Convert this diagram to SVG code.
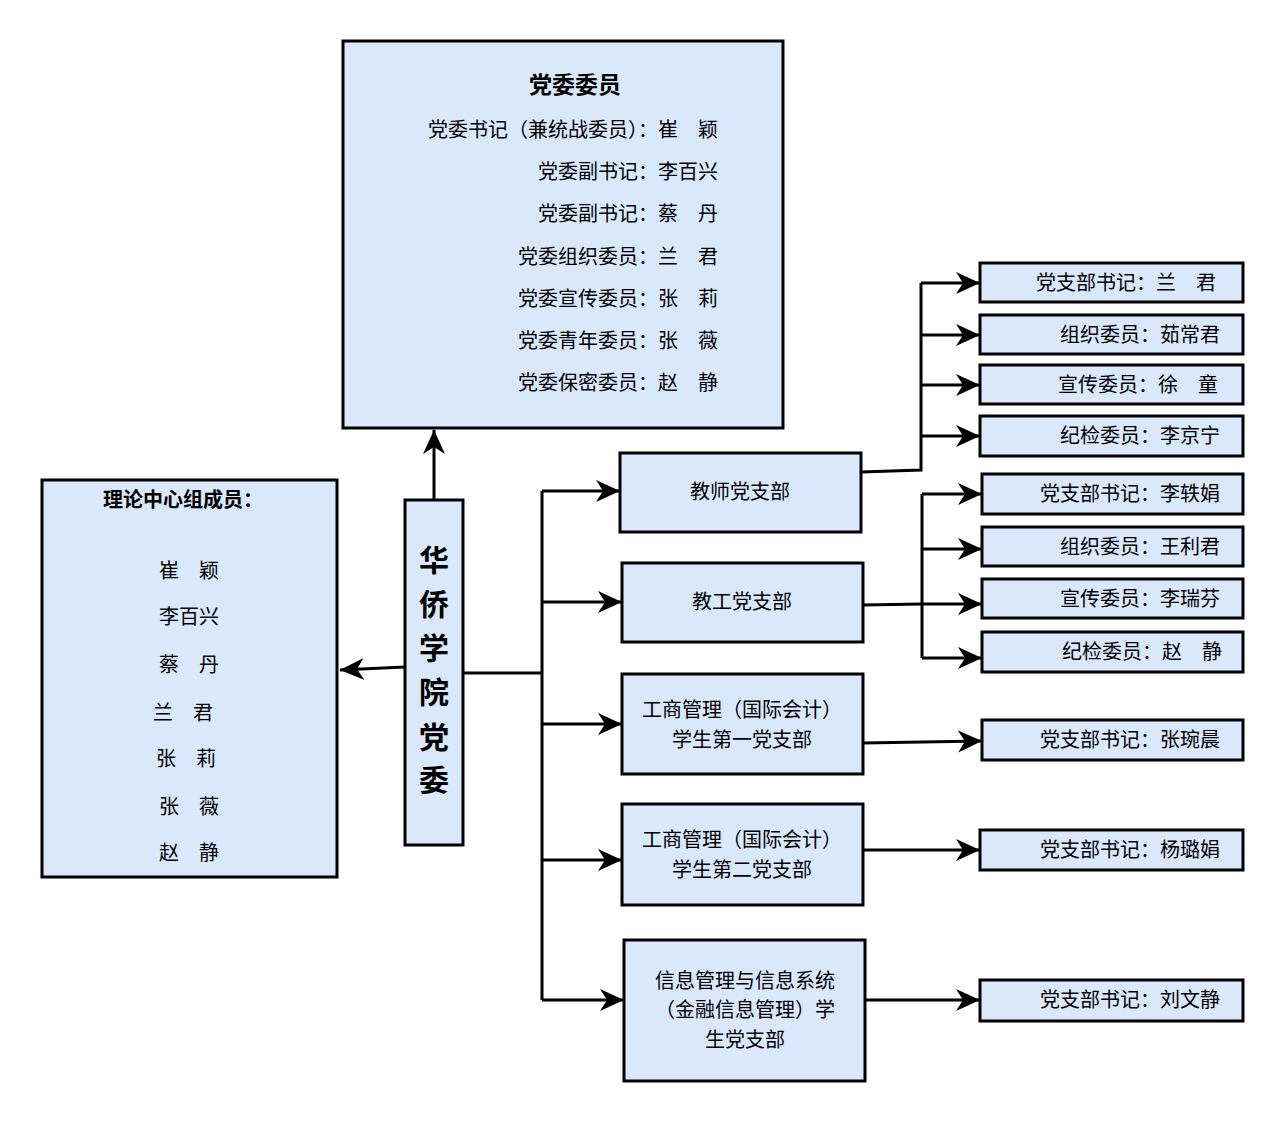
<svg xmlns="http://www.w3.org/2000/svg" width="1286" height="1124" viewBox="0 0 1286 1124">
<style>
rect{fill:#dae8fc;stroke:#000;stroke-width:3}
text{font-family:"Noto Sans CJK SC","Noto Sans",sans-serif;font-size:20px;fill:#000}
.b{font-weight:bold}
.c{text-anchor:middle}
.e{text-anchor:end}
.v{font-size:30px;font-weight:bold;text-anchor:middle}
#conn path{fill:none;stroke:#000;stroke-width:3}
</style>
<defs>
<marker id="a" markerUnits="userSpaceOnUse" markerWidth="26" markerHeight="24" refX="24" refY="12" orient="auto">
<path d="M0,1 L24,12 L0,23 L7,12 Z" fill="#000"/>
</marker>
</defs>
<rect width="1286" height="1124" style="fill:#fff;stroke:none"/>
<g id="conn">
<path d="M434,500 V430" marker-end="url(#a)"/>
<path d="M405,667 L340,670" marker-end="url(#a)"/>
<path d="M463,673 H542"/>
<path d="M542,491 V1000"/>
<path d="M542,491 H620" marker-end="url(#a)"/>
<path d="M542,602 H622" marker-end="url(#a)"/>
<path d="M542,724 H622" marker-end="url(#a)"/>
<path d="M542,860 H622" marker-end="url(#a)"/>
<path d="M542,1000 H624" marker-end="url(#a)"/>
<path d="M861,472 L921,470 V283"/>
<path d="M921,283 H980" marker-end="url(#a)"/>
<path d="M921,335 H980" marker-end="url(#a)"/>
<path d="M921,385 H980" marker-end="url(#a)"/>
<path d="M921,436 H980" marker-end="url(#a)"/>
<path d="M863,605 L922,604"/>
<path d="M922,494 V658"/>
<path d="M922,494 H982" marker-end="url(#a)"/>
<path d="M922,549 H982" marker-end="url(#a)"/>
<path d="M922,604 H982" marker-end="url(#a)"/>
<path d="M922,658 H982" marker-end="url(#a)"/>
<path d="M863,743 L982,741" marker-end="url(#a)"/>
<path d="M863,850 H980" marker-end="url(#a)"/>
<path d="M865,1000 H980" marker-end="url(#a)"/>
</g>
<g id="top"><rect x="343" y="41" width="440" height="387"/>
<text class="b c" x="575" y="93" style="font-size:23px">党委委员</text>
<text class="e" x="718" y="137">党委书记（兼统战委员）：崔　颖</text>
<text class="e" x="718" y="179">党委副书记：李百兴</text>
<text class="e" x="718" y="221">党委副书记：蔡　丹</text>
<text class="e" x="718" y="264">党委组织委员：兰　君</text>
<text class="e" x="718" y="306">党委宣传委员：张　莉</text>
<text class="e" x="718" y="348">党委青年委员：张　薇</text>
<text class="e" x="718" y="390">党委保密委员：赵　静</text>
</g>
<g id="left"><rect x="42" y="480" width="295" height="397"/>
<text class="b c" x="183" y="507">理论中心组成员：</text>
<text class="c" x="189" y="578">崔　颖</text>
<text class="c" x="189" y="624">李百兴</text>
<text class="c" x="189" y="672">蔡　丹</text>
<text class="c" x="183" y="720">兰　君</text>
<text class="c" x="186" y="766">张　莉</text>
<text class="c" x="189" y="814">张　薇</text>
<text class="c" x="189" y="860">赵　静</text>
</g>
<g id="center"><rect x="405" y="500" width="58" height="345"/>
<text class="v" x="434" y="571">华</text>
<text class="v" x="434" y="615">侨</text>
<text class="v" x="434" y="659">学</text>
<text class="v" x="434" y="703">院</text>
<text class="v" x="434" y="748">党</text>
<text class="v" x="434" y="791">委</text>
</g>
<g id="b1"><rect x="620" y="453" width="241" height="79"/><text class="c" x="740" y="499">教师党支部</text></g>
<g id="b2"><rect x="622" y="563" width="241" height="79"/><text class="c" x="742" y="609">教工党支部</text></g>
<g id="b3"><rect x="622" y="674" width="241" height="100"/><text class="c" x="742" y="717">工商管理（国际会计）</text><text class="c" x="742" y="747">学生第一党支部</text></g>
<g id="b4"><rect x="622" y="804" width="241" height="101"/><text class="c" x="742" y="847">工商管理（国际会计）</text><text class="c" x="742" y="877">学生第二党支部</text></g>
<g id="b5"><rect x="624" y="940" width="241" height="141"/><text class="c" x="745" y="988">信息管理与信息系统</text><text class="c" x="745" y="1017">（金融信息管理）学</text><text class="c" x="745" y="1047">生党支部</text></g>
<g id="r1"><rect x="980" y="263" width="263" height="39"/><text class="e" x="1216" y="290">党支部书记：兰　君</text></g>
<g id="r2"><rect x="980" y="315" width="263" height="39"/><text class="e" x="1220" y="342">组织委员：茹常君</text></g>
<g id="r3"><rect x="980" y="365" width="263" height="39"/><text class="e" x="1218" y="392">宣传委员：徐　童</text></g>
<g id="r4"><rect x="980" y="416" width="263" height="40"/><text class="e" x="1220" y="443">纪检委员：李京宁</text></g>
<g id="r5"><rect x="982" y="474" width="261" height="40"/><text class="e" x="1220" y="501">党支部书记：李轶娟</text></g>
<g id="r6"><rect x="982" y="527" width="261" height="39"/><text class="e" x="1220" y="554">组织委员：王利君</text></g>
<g id="r7"><rect x="982" y="579" width="261" height="39"/><text class="e" x="1220" y="606">宣传委员：李瑞芬</text></g>
<g id="r8"><rect x="982" y="632" width="261" height="40"/><text class="e" x="1222" y="659">纪检委员：赵　静</text></g>
<g id="r9"><rect x="982" y="720" width="261" height="40"/><text class="e" x="1220" y="747">党支部书记：张琬晨</text></g>
<g id="r10"><rect x="980" y="830" width="263" height="40"/><text class="e" x="1220" y="857">党支部书记：杨璐娟</text></g>
<g id="r11"><rect x="980" y="980" width="263" height="41"/><text class="e" x="1220" y="1007">党支部书记：刘文静</text></g>
</svg>
